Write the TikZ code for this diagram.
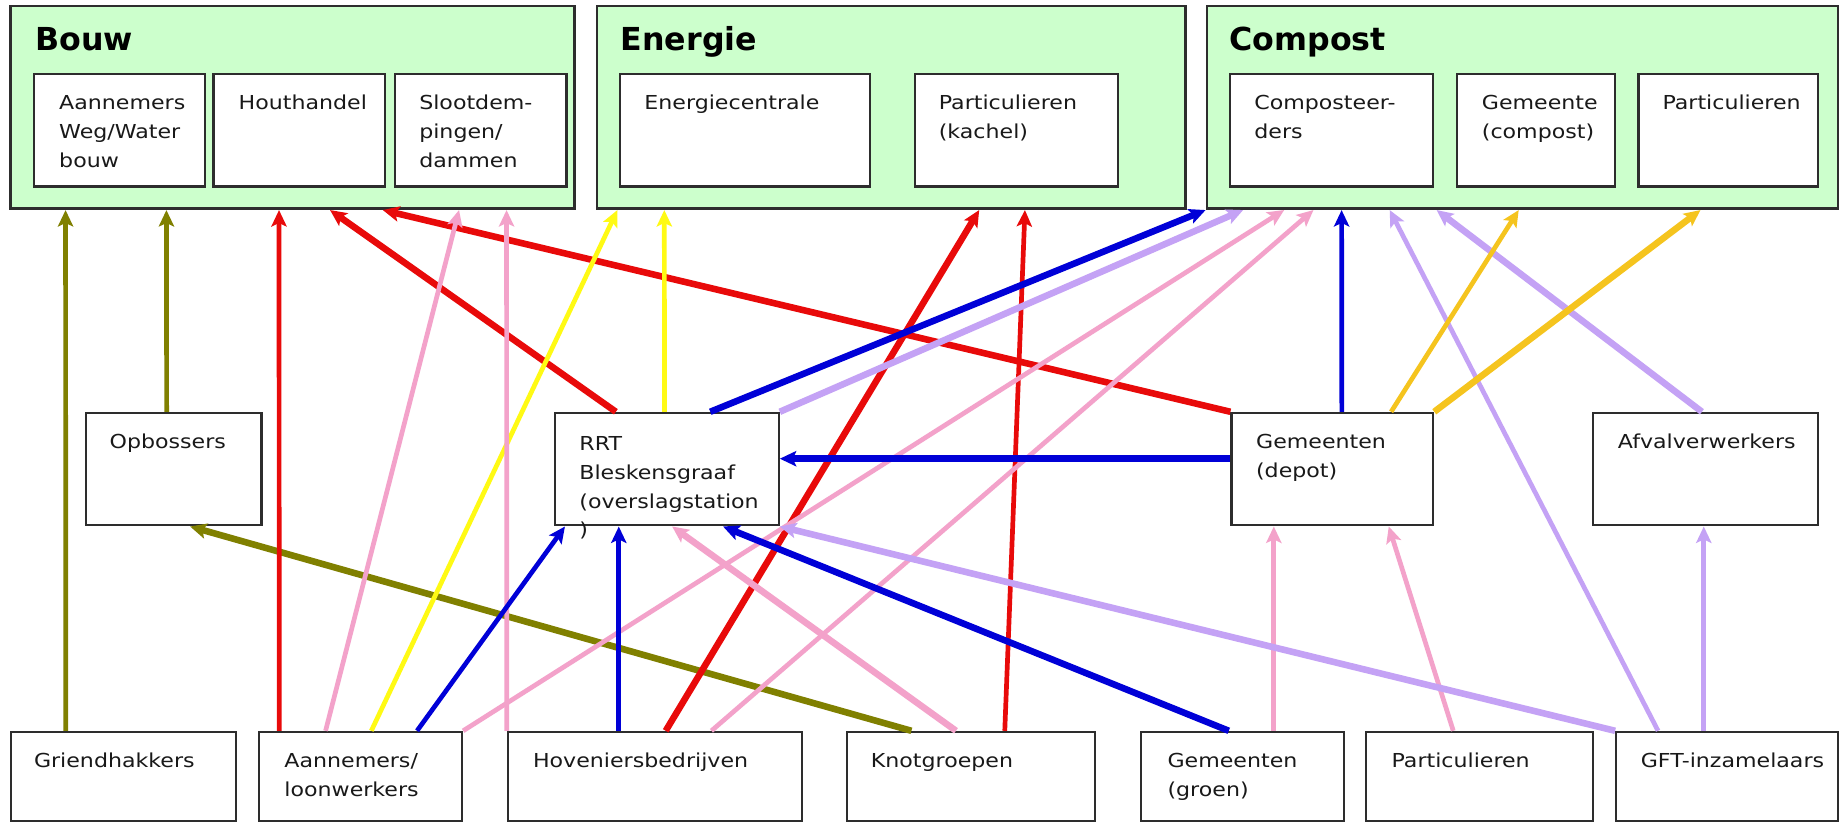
\documentclass[tikz,border=0pt]{standalone}
\usepackage{fontspec}
\setmainfont{DejaVu Sans}[FakeStretch=1.15]
\newfontfamily\titlefont{DejaVu Sans}
\usetikzlibrary{arrows.meta,fit}

\definecolor{groupgreen}{RGB}{204,255,204}
\definecolor{boxline}{RGB}{45,45,45}
\definecolor{olivearrow}{RGB}{128,128,0}
\definecolor{redarrow}{RGB}{232,10,10}
\definecolor{yellowarrow}{RGB}{255,250,20}
\definecolor{pinkarrow}{RGB}{243,162,202}
\definecolor{bluearrow}{RGB}{0,0,215}
\definecolor{lilacarrow}{RGB}{196,162,245}
\definecolor{goldarrow}{RGB}{245,196,30}

\begin{document}
\begin{tikzpicture}[x=0.5pt, y=-0.5pt,
  groupbox/.style={draw=boxline, line width=1.1pt, fill=groupgreen, inner sep=0pt},
  actorbox/.style={draw=boxline, line width=0.9pt, fill=white, inner sep=0pt},
  boxtext/.style={anchor=north west, inner sep=0pt, align=left, text=black!90, font=\fontsize{8.2}{12.25}\selectfont},
  grouptitle/.style={anchor=base west, inner sep=0pt, font=\titlefont\bfseries\fontsize{13.5}{16}\selectfont},
  flow/.style={line width=2pt, -{Stealth[length=7pt,width=6.5pt,inset=1.5pt]}},
  heavyflow/.style={flow, line width=2.8pt},
]
\useasboundingbox[fill=white] (0,0) rectangle (1568,702);

\node[groupbox, fit={(9,5) (490,178)}] (bouw) {};
\node[groupbox, fit={(509,5) (1011,178)}] (energie) {};
\node[groupbox, fit={(1029,5) (1567,178)}] (compost) {};

\node[grouptitle] (bouw-t) at ([shift={(22,39)}]bouw.north west) {Bouw};
\node[grouptitle] (energie-t) at ([shift={(21,39)}]energie.north west) {Energie};
\node[grouptitle] (compost-t) at ([shift={(20,39)}]compost.north west) {Compost};

\node[actorbox, fit={(29,63) (175,159)}] (wegwater) {};
\node[actorbox, fit={(182,63) (328,159)}] (houthandel) {};
\node[actorbox, fit={(337,63) (483,159)}] (sloot) {};
\node[actorbox, fit={(529,63) (742,159)}] (centrale) {};
\node[actorbox, fit={(780,63) (953,159)}] (kachel) {};
\node[actorbox, fit={(1049,63) (1222,159)}] (composteer) {};
\node[actorbox, fit={(1242,63) (1377,159)}] (gemcompost) {};
\node[actorbox, fit={(1397,63) (1550,159)}] (partcompost) {};

\node[boxtext] (wegwater-t) at ([shift={(22,13.9)}]wegwater.north west) {\strut Aannemers\\Weg/Water\\bouw};
\node[boxtext] (houthandel-t) at ([shift={(22,13.9)}]houthandel.north west) {\strut Houthandel};
\node[boxtext] (sloot-t) at ([shift={(21,13.9)}]sloot.north west) {\strut Slootdem-\\pingen/\\dammen};
\node[boxtext] (centrale-t) at ([shift={(21,13.9)}]centrale.north west) {\strut Energiecentrale};
\node[boxtext] (kachel-t) at ([shift={(21,13.9)}]kachel.north west) {\strut Particulieren\\(kachel)};
\node[boxtext] (composteer-t) at ([shift={(21,13.9)}]composteer.north west) {\strut Composteer-\\ders};
\node[boxtext] (gemcompost-t) at ([shift={(22,13.9)}]gemcompost.north west) {\strut Gemeente\\(compost)};
\node[boxtext] (partcompost-t) at ([shift={(21,13.9)}]partcompost.north west) {\strut Particulieren};

\node[actorbox, fit={(73,352) (223,448)}] (opbossers) {};
\node[actorbox, fit={(473,352) (664,448)}] (rrt) {};
\node[actorbox, fit={(1050,352) (1222,448)}] (depot) {};
\node[actorbox, fit={(1358,352) (1550,448)}] (afval) {};

\node[boxtext] (opbossers-t) at ([shift={(21,13.9)}]opbossers.north west) {\strut Opbossers};
\node[boxtext] (rrt-t) at ([shift={(21.5,15.5)}]rrt.north west) {\strut RRT\\Bleskensgraaf\\(overslagstation\\)};
\node[boxtext] (depot-t) at ([shift={(21.5,13.9)}]depot.north west) {\strut Gemeenten\\(depot)};
\node[boxtext] (afval-t) at ([shift={(22,13.9)}]afval.north west) {\strut Afvalverwerkers};

\node[actorbox, fit={(9,624) (201,700)}] (griend) {};
\node[actorbox, fit={(221,624) (394,700)}] (loon) {};
\node[actorbox, fit={(433,624) (684,700)}] (hovenier) {};
\node[actorbox, fit={(722,624) (934,700)}] (knot) {};
\node[actorbox, fit={(973,624) (1146,700)}] (groen) {};
\node[actorbox, fit={(1165,624) (1358,700)}] (partgroen) {};
\node[actorbox, fit={(1378,624) (1567,700)}] (gft) {};

\node[boxtext] (griend-t) at ([shift={(20.5,13.9)}]griend.north west) {\strut Griendhakkers};
\node[boxtext] (loon-t) at ([shift={(22,13.9)}]loon.north west) {\strut Aannemers/\\loonwerkers};
\node[boxtext] (hovenier-t) at ([shift={(22,13.9)}]hovenier.north west) {\strut Hoveniersbedrijven};
\node[boxtext] (knot-t) at ([shift={(21,13.9)}]knot.north west) {\strut Knotgroepen};
\node[boxtext] (groen-t) at ([shift={(23,13.9)}]groen.north west) {\strut Gemeenten\\(groen)};
\node[boxtext] (partgroen-t) at ([shift={(22,13.9)}]partgroen.north west) {\strut Particulieren};
\node[boxtext] (gft-t) at ([shift={(21.5,13.9)}]gft.north west) {\strut GFT-inzamelaars};

\draw[flow, olivearrow] ([shift={(48,0)}]griend.north west) -- ([shift={(48,0)}]bouw.south west);
\draw[flow, olivearrow] ([shift={(70,0)}]opbossers.north west) -- ([shift={(134,0)}]bouw.south west);
\draw[heavyflow, olivearrow] ([shift={(56,0)}]knot.north west) -- ([shift={(90,0)}]opbossers.south west);

\draw[flow, redarrow] ([shift={(18,0)}]loon.north west) -- ([shift={(230,0)}]bouw.south west);
\draw[heavyflow, redarrow] ([shift={(53,0)}]rrt.north west) -- ([shift={(273.5,0)}]bouw.south west);
\draw[heavyflow, redarrow] (depot.north west) -- ([shift={(318.5,0)}]bouw.south west);
\draw[heavyflow, redarrow] ([shift={(135.5,0)}]hovenier.north west) -- ([shift={(327,0)}]energie.south west);
\draw[flow, redarrow] ([shift={(135.6,0)}]knot.north west) -- ([shift={(366,0)}]energie.south west);

\draw[flow, yellowarrow] ([shift={(96.5,0)}]loon.north west) -- ([shift={(18.5,0)}]energie.south west);
\draw[flow, yellowarrow] ([shift={(94.5,0)}]rrt.north west) -- ([shift={(58.5,0)}]energie.south west);

\draw[flow, pinkarrow] ([shift={(57.5,0)}]loon.north west) -- ([shift={(383.5,0)}]bouw.south west);
\draw[flow, pinkarrow] (hovenier.north west) -- ([shift={(424,0)}]bouw.south west);
\draw[flow, pinkarrow] (loon.north east) -- ([shift={(67,0)}]compost.south west);
\draw[flow, pinkarrow] ([shift={(174.5,0)}]hovenier.north west) -- ([shift={(92,0)}]compost.south west);
\draw[heavyflow, pinkarrow] ([shift={(94,0)}]knot.north west) -- ([shift={(101,0)}]rrt.south west);
\draw[flow, pinkarrow] ([shift={(114,0)}]groen.north west) -- ([shift={(37,0)}]depot.south west);
\draw[flow, pinkarrow] ([shift={(75,0)}]partgroen.north west) -- ([shift={(135,0)}]depot.south west);

\draw[flow, bluearrow] ([shift={(95.5,0)}]hovenier.north west) -- ([shift={(55.5,0)}]rrt.south west);
\draw[flow, bluearrow] ([shift={(135.5,0)}]loon.north west) -- ([shift={(9.6,0)}]rrt.south west);
\draw[heavyflow, bluearrow] ([shift={(75.6,0)}]groen.north west) -- ([shift={(144.4,0)}]rrt.south west);
\draw[heavyflow, bluearrow] ([shift={(0,40)}]depot.north west) -- ([shift={(0,40)}]rrt.north east);
\draw[flow, bluearrow] ([shift={(95,0)}]depot.north west) -- ([shift={(116,0)}]compost.south west);
\draw[heavyflow, bluearrow] ([shift={(133.5,0)}]rrt.north west) -- (compost.south west);

\draw[heavyflow, lilacarrow] (rrt.north east) -- ([shift={(32,0)}]compost.south west);
\draw[heavyflow, lilacarrow] (gft.north west) -- (rrt.south east);
\draw[flow, lilacarrow] ([shift={(36.6,0)}]gft.north west) -- ([shift={(157,0)}]compost.south west);
\draw[heavyflow, lilacarrow] ([shift={(94,0)}]afval.north west) -- ([shift={(197,0)}]compost.south west);
\draw[flow, lilacarrow] ([shift={(75.6,0)}]gft.north west) -- ([shift={(95.6,0)}]afval.south west);

\draw[flow, goldarrow] ([shift={(137,0)}]depot.north west) -- ([shift={(267,0)}]compost.south west);
\draw[heavyflow, goldarrow] (depot.north east) -- ([shift={(422,0)}]compost.south west);

\end{tikzpicture}
\end{document}
